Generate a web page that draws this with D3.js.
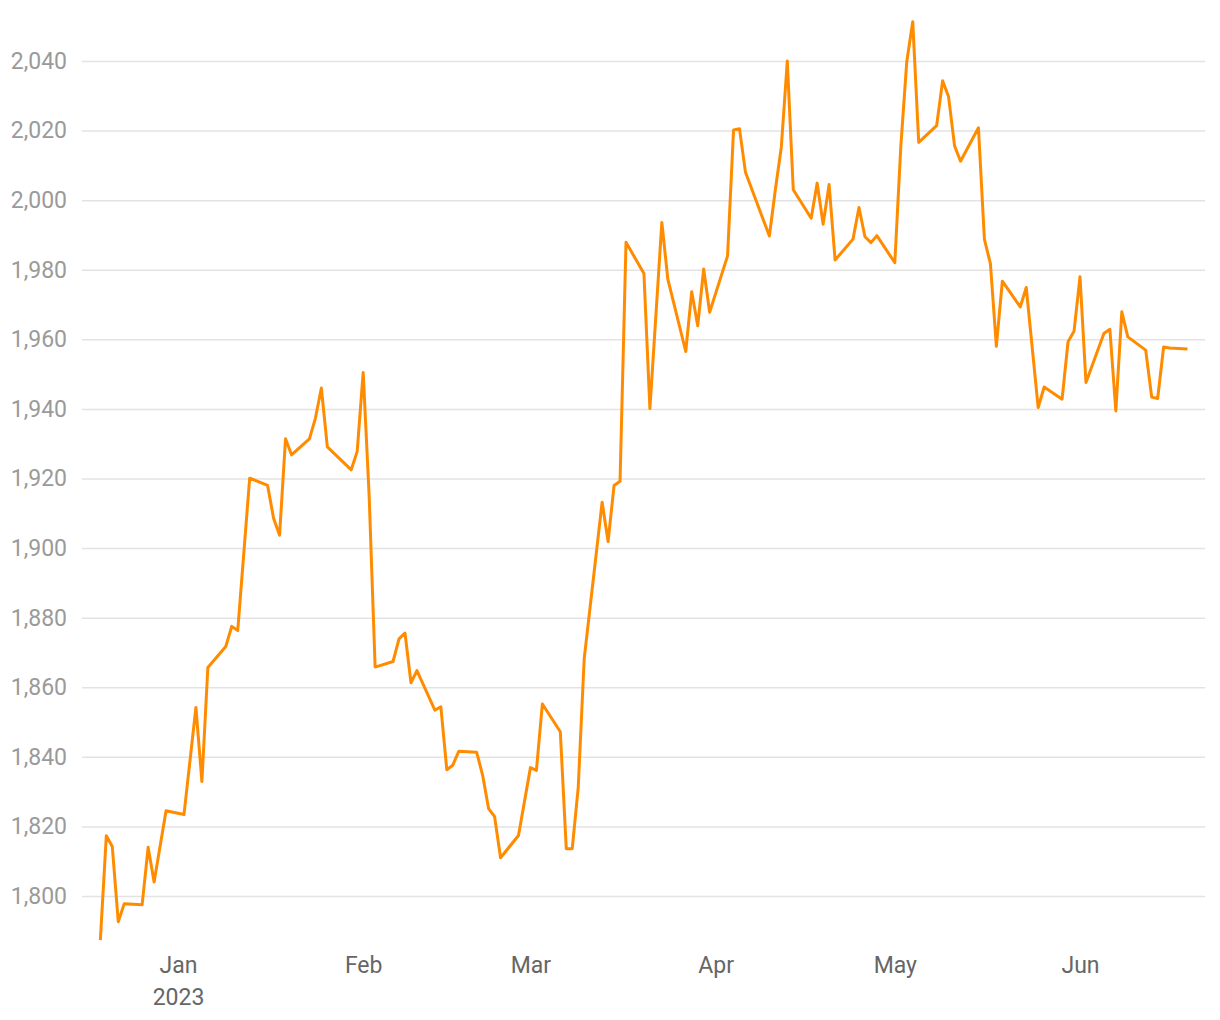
<!DOCTYPE html>
<html><head><meta charset="utf-8">
<script src="https://cdn.jsdelivr.net/npm/d3@7"></script>
<style>body{margin:0;background:#fff;} text{font-family:Roboto,"Noto Sans",sans-serif;}</style>
</head><body><svg id="c" width="1220" height="1020"></svg>
<script>
const dates = ["2022-12-19","2022-12-20","2022-12-21","2022-12-22","2022-12-23","2022-12-26","2022-12-27","2022-12-28","2022-12-30",
"2023-01-02","2023-01-04","2023-01-05","2023-01-06","2023-01-09","2023-01-10","2023-01-11","2023-01-13","2023-01-16","2023-01-17","2023-01-18","2023-01-19","2023-01-20",
"2023-01-23","2023-01-24","2023-01-25","2023-01-26","2023-01-30","2023-01-31","2023-02-01","2023-02-02","2023-02-03","2023-02-06","2023-02-07","2023-02-08","2023-02-09","2023-02-10",
"2023-02-13","2023-02-14","2023-02-15","2023-02-16","2023-02-17","2023-02-20","2023-02-21","2023-02-22","2023-02-23","2023-02-24","2023-02-27","2023-03-01","2023-03-02","2023-03-03",
"2023-03-06","2023-03-07","2023-03-08","2023-03-09","2023-03-10","2023-03-13","2023-03-14","2023-03-15","2023-03-16","2023-03-17","2023-03-20","2023-03-21","2023-03-23","2023-03-24",
"2023-03-27","2023-03-28","2023-03-29","2023-03-30","2023-03-31","2023-04-03","2023-04-04","2023-04-05","2023-04-06","2023-04-10","2023-04-11","2023-04-12","2023-04-13","2023-04-14",
"2023-04-17","2023-04-18","2023-04-19","2023-04-20","2023-04-21","2023-04-24","2023-04-25","2023-04-26","2023-04-27","2023-04-28","2023-05-01","2023-05-02","2023-05-03","2023-05-04","2023-05-05",
"2023-05-08","2023-05-09","2023-05-10","2023-05-11","2023-05-12","2023-05-15","2023-05-16","2023-05-17","2023-05-18","2023-05-19","2023-05-22","2023-05-23","2023-05-25","2023-05-26",
"2023-05-29","2023-05-30","2023-05-31","2023-06-01","2023-06-02","2023-06-05","2023-06-06","2023-06-07","2023-06-08","2023-06-09","2023-06-12","2023-06-13","2023-06-14","2023-06-15","2023-06-16","2023-06-19"];
const prices = [1787.3,1817.3,1814.2,1792.6,1797.8,1797.5,1814.0,1804.0,1824.5,
1823.4,1854.2,1832.9,1865.7,1871.7,1877.5,1876.3,1920.1,1918.0,1908.6,1903.7,1931.4,1926.8,
1931.4,1937.3,1946.0,1929.1,1922.5,1927.8,1950.5,1915.0,1865.8,1867.4,1873.9,1875.6,1861.3,1864.8,
1853.4,1854.4,1836.3,1837.6,1841.6,1841.3,1834.7,1825.1,1822.8,1811.0,1817.4,1836.9,1836.1,1855.2,
1847.2,1813.6,1813.6,1831.2,1868.2,1913.2,1901.9,1918.0,1919.2,1987.9,1978.9,1940.1,1993.6,1977.3,
1956.5,1973.7,1963.9,1980.2,1967.8,1984.0,2020.2,2020.5,2008.0,1989.7,2003.0,2015.3,2040.0,2003.0,
1994.8,2004.9,1993.1,2004.5,1982.8,1988.8,1997.9,1989.5,1987.8,1989.8,1982.0,2015.4,2039.8,2051.3,2016.6,
2021.4,2034.3,2029.7,2015.6,2011.2,2020.8,1988.7,1981.8,1958.0,1976.7,1969.3,1974.9,1940.4,1946.3,
1942.8,1959.3,1962.3,1978.0,1947.6,1961.7,1962.9,1939.4,1967.9,1960.7,1956.9,1943.4,1943.0,1957.8,1957.5,1957.2];
const yTicks = [1800,1820,1840,1860,1880,1900,1920,1940,1960,1980,2000,2020,2040];
const monthTicks = ["2023-01-01","2023-02-01","2023-03-01","2023-04-01","2023-05-01","2023-06-01"];

const parse = d3.timeParse("%Y-%m-%d");
const data = dates.map((d,i)=>({date:parse(d), value:prices[i]}));
const svg = d3.select("#c");

const x = d3.scaleTime().domain([parse("2023-01-01"), parse("2023-06-01")]).range([178,1080]);
const y = d3.scaleLinear().domain([1800,2040]).range([896,61]);

// grid + y labels
const ga = svg.append("g").attr("transform","translate(82,0)")
  .call(d3.axisLeft(y).tickValues(yTicks).tickSize(-1123).tickPadding(15).tickFormat(d3.format(",")));
ga.select(".domain").remove();
ga.selectAll(".tick line").attr("stroke","#e3e3e3").attr("stroke-width",1.5);
ga.selectAll(".tick text").attr("fill","#9a9a9a").style("font-size","23px").style("font-family","Roboto");

// x labels
const xa = svg.append("g").attr("transform","translate(0,945)")
  .call(d3.axisBottom(x).tickValues(monthTicks.map(parse)).tickSize(0).tickPadding(12).tickFormat(d3.timeFormat("%b")));
xa.select(".domain").remove();
xa.selectAll(".tick text").attr("fill","#666").style("font-size","23px").style("font-family","Roboto");
xa.selectAll(".tick").filter(d=>d.getMonth()===0).append("text")
  .attr("y",44).attr("dy","0.71em").attr("fill","#666").attr("text-anchor","middle")
  .style("font-size","23px").style("font-family","Roboto").text(d=>d.getFullYear());

// line
svg.append("path").datum(data)
  .attr("fill","none").attr("stroke","#ff8c00").attr("stroke-width",3).attr("stroke-linejoin","round")
  .attr("d", d3.line().x(d=>x(d.date)).y(d=>y(d.value)));
</script></body></html>
